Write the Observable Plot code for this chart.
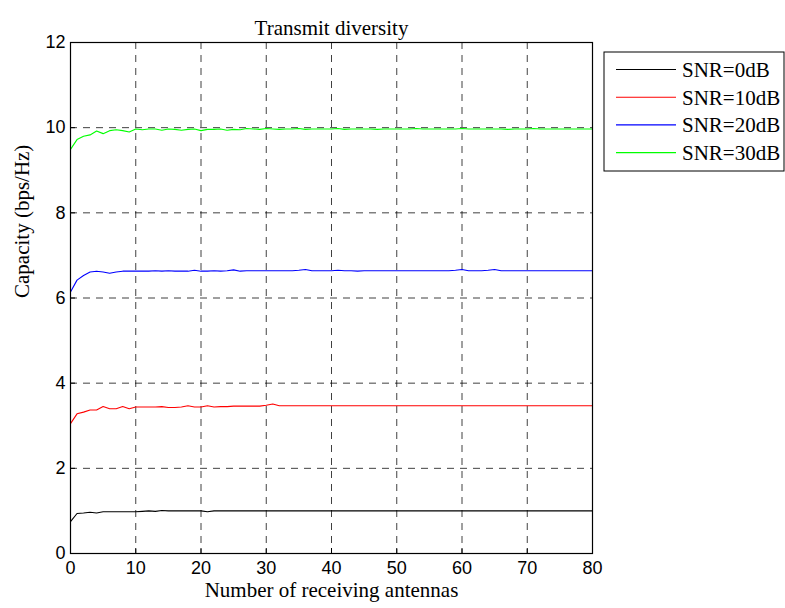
<!DOCTYPE html>
<html>
<head>
<meta charset="utf-8">
<script src="https://cdn.jsdelivr.net/npm/d3@7"></script>
<script src="https://cdn.jsdelivr.net/npm/@observablehq/plot@0.6"></script>
<style>
  html, body { margin: 0; padding: 0; background: #ffffff; }
  #chart { width: 785px; height: 608px; }
</style>
</head>
<body>
<div id="chart"></div>
<script>
// ---- data ----
const title = "Transmit diversity";
const xLabel = "Number of receiving antennas";
const yLabel = "Capacity (bps/Hz)";
const seriesNames = ["SNR=0dB", "SNR=10dB", "SNR=20dB", "SNR=30dB"];
const seriesColors = ["#000000", "#ff0000", "#0000ff", "#00ff00"];
const xTicks = [0, 10, 20, 30, 40, 50, 60, 70, 80];
const yTicks = [0, 2, 4, 6, 8, 10, 12];
const antennas = [
  0,1,2,3,4,5,6,7,8,9,10,11,12,13,14,15,16,17,18,19,20,
  21,22,23,24,25,26,27,28,29,30,31,32,33,34,35,36,37,38,39,40,
  41,42,43,44,45,46,47,48,49,50,51,52,53,54,55,56,57,58,59,60,
  61,62,63,64,65,66,67,68,69,70,71,72,73,74,75,76,77,78,79,80
];
const snr0 = [
  0.75,0.94,0.95,0.97,0.95,0.98,0.98,0.98,0.98,0.98,
  0.98,0.99,1.00,0.99,1.01,1.00,1.00,1.00,1.00,1.00,
  1.00,0.98,1.00,1.00,1.00,1.00,1.00,1.00,1.00,1.00,
  1.00,1.00,1.00,1.00,1.00,1.00,1.00,1.00,1.00,1.00,
  1.00,1.00,1.00,1.00,1.00,1.00,1.00,1.00,1.00,1.00,
  1.00,1.00,1.00,1.00,1.00,1.00,1.00,1.00,1.00,1.00,
  1.00,1.00,1.00,1.00,1.00,1.00,1.00,1.00,1.00,1.00,
  1.00,1.00,1.00,1.00,1.00,1.00,1.00,1.00,1.00,1.00,
  1.00
];
const snr10 = [
  3.05,3.28,3.32,3.37,3.37,3.45,3.40,3.40,3.45,3.40,
  3.44,3.44,3.44,3.44,3.45,3.43,3.43,3.44,3.47,3.44,
  3.44,3.47,3.44,3.45,3.45,3.46,3.46,3.46,3.46,3.46,
  3.48,3.51,3.47,3.47,3.47,3.47,3.47,3.47,3.47,3.47,
  3.47,3.47,3.47,3.47,3.47,3.47,3.47,3.47,3.47,3.47,
  3.47,3.47,3.47,3.47,3.47,3.47,3.47,3.47,3.47,3.47,
  3.47,3.47,3.47,3.47,3.47,3.47,3.47,3.47,3.47,3.47,
  3.47,3.47,3.47,3.47,3.47,3.47,3.47,3.47,3.47,3.47,
  3.47
];
const snr20 = [
  6.14,6.42,6.53,6.61,6.63,6.61,6.58,6.61,6.63,6.63,
  6.63,6.63,6.63,6.64,6.63,6.64,6.63,6.63,6.63,6.65,
  6.63,6.63,6.64,6.63,6.64,6.66,6.63,6.64,6.64,6.64,
  6.64,6.64,6.64,6.64,6.64,6.65,6.67,6.64,6.64,6.64,
  6.64,6.65,6.64,6.64,6.63,6.64,6.64,6.64,6.64,6.64,
  6.64,6.64,6.64,6.64,6.64,6.64,6.64,6.64,6.64,6.65,
  6.67,6.64,6.64,6.64,6.65,6.67,6.64,6.64,6.64,6.64,
  6.64,6.64,6.64,6.64,6.64,6.64,6.64,6.64,6.64,6.64,
  6.64
];
const snr30 = [
  9.49,9.72,9.80,9.83,9.92,9.86,9.93,9.95,9.93,9.90,
  9.97,9.95,9.97,9.97,9.94,9.97,9.96,9.94,9.96,9.97,
  9.93,9.96,9.96,9.97,9.94,9.96,9.95,9.98,9.97,9.96,
  9.98,9.97,9.96,9.97,9.97,9.98,9.96,9.97,9.97,9.97,
  9.97,9.98,9.96,9.97,9.97,9.97,9.97,9.96,9.97,9.97,
  9.97,9.97,9.97,9.98,9.97,9.97,9.97,9.97,9.97,9.97,
  9.98,9.97,9.97,9.97,9.97,9.97,9.97,9.96,9.97,9.97,
  9.97,9.98,9.97,9.97,9.97,9.97,9.97,9.97,9.97,9.97,
  9.97
];
const seriesValues = [snr0, snr10, snr20, snr30];

// ---- build table ----
const rows = [];
seriesValues.forEach((vals, s) => {
  vals.forEach((v, i) => rows.push({x: antennas[i], y: v, series: seriesNames[s]}));
});

const W = 785, H = 608;
const mL = 70, mR = 193, mT = 42, mB = 55;
const serif = "'Liberation Serif', 'Times New Roman', serif";
const sans = "'Liberation Sans', Arial, sans-serif";
const gridX = xTicks.filter(d => d > xTicks[0] && d < xTicks[xTicks.length - 1]);
const gridY = yTicks.filter(d => d > yTicks[0] && d < yTicks[yTicks.length - 1]);
const plotH = H - mT - mB;
const plotW = W - mL - mR;

const chart = Plot.plot({
  width: W,
  height: H,
  marginLeft: mL,
  marginRight: mR,
  marginTop: mT,
  marginBottom: mB,
  style: {background: "transparent", fontFamily: sans, overflow: "visible"},
  x: {domain: [0, 80], ticks: xTicks},
  y: {domain: [0, 12], ticks: yTicks},
  color: {domain: seriesNames, range: seriesColors},
  marks: [
    Plot.ruleX(gridX, {x: d => d, stroke: "#000", strokeOpacity: 0.75, strokeDasharray: "7,6"}),
    Plot.ruleY(gridY, {y: d => d, stroke: "#000", strokeOpacity: 0.75, strokeDasharray: "7,6"}),
    Plot.tickX(xTicks, {x: d => d, stroke: "#000", insetTop: plotH - 5}),
    Plot.tickY(yTicks, {y: d => d, stroke: "#000", insetRight: plotW - 5}),
    Plot.line(rows, {x: "x", y: "y", z: "series", stroke: "series", strokeWidth: 1.1}),
    Plot.frame({stroke: "#000", strokeWidth: 1.2}),
    Plot.axisX({ticks: xTicks, tickSize: 0, tickPadding: 8, fontSize: 18, fontFamily: sans, label: null, fill: "#000"}),
    Plot.axisY({ticks: yTicks, tickSize: 0, tickPadding: 5, fontSize: 18, fontFamily: sans, label: null, fill: "#000"}),
    Plot.text([title], {frameAnchor: "top", dy: -22, fontSize: 21, fontFamily: serif, fill: "#000"}),
    Plot.text([xLabel], {frameAnchor: "bottom", dy: 43, fontSize: 21, fontFamily: serif, fill: "#000"}),
    Plot.text([yLabel], {frameAnchor: "left", dx: -48, rotate: -90, fontSize: 21, fontFamily: serif, fill: "#000"})
  ]
});

// ---- legend (outside plot area, in the right margin) ----
const svg = d3.select(chart);
const lgX = W - mR + 12, lgY = mT + 10, lgW = 180, lgH = 119;
const lg = svg.append("g").attr("class", "legend");
lg.append("rect")
  .attr("x", lgX).attr("y", lgY).attr("width", lgW).attr("height", lgH)
  .attr("fill", "#fff").attr("stroke", "#000").attr("stroke-width", 1);
seriesNames.forEach((name, i) => {
  const cy = lgY + 17.5 + i * 27.7;
  lg.append("line")
    .attr("x1", lgX + 12).attr("x2", lgX + 72)
    .attr("y1", cy).attr("y2", cy)
    .attr("stroke", seriesColors[i]).attr("stroke-width", 1.1);
  lg.append("text")
    .attr("x", lgX + 78).attr("y", cy).attr("dy", "0.35em")
    .style("text-anchor", "start")
    .style("font-family", serif).style("font-size", "21px")
    .attr("fill", "#000")
    .text(name);
});

document.getElementById("chart").appendChild(chart);
</script>
</body>
</html>
